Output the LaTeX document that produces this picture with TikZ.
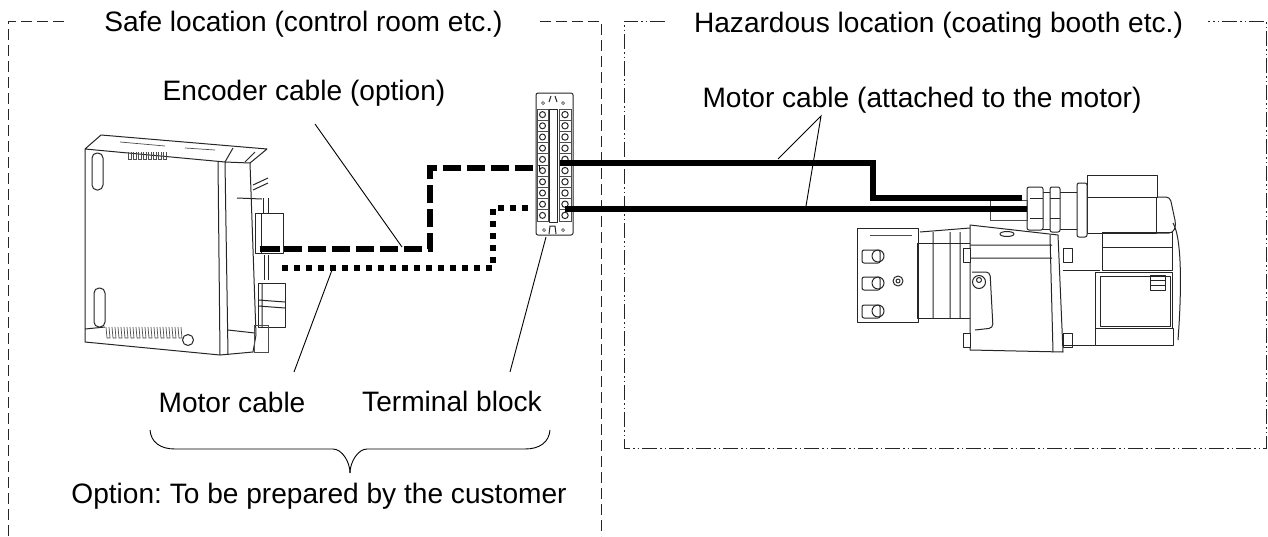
\documentclass[tikz,border=0pt]{standalone}
\usepackage{fontspec}
\setmainfont{Liberation Sans}
\usetikzlibrary{arrows.meta,positioning,calc}

\tikzset{
    label/.style={inner sep=0pt,font=\fontsize{28.1}{32}\selectfont\frenchspacing},
    zone/.style={line width=0.9pt,draw=black!85,dash pattern=on 11pt off 5pt},
    hazzone/.style={line width=0.9pt,draw=black!85,dash pattern=on 15pt off 3pt on 1.5pt off 3pt on 1.5pt off 3pt},
    cable/.style={line width=6pt,line cap=butt,miter limit=10},
    enccable/.style={cable,dash pattern=on 18pt off 6pt},
    motcable/.style={cable,dash pattern=on 6pt off 6pt},
    leader/.style={line width=0.9pt},
    art/.style={line width=1pt,draw=black!85,line join=round},
    artthin/.style={line width=0.7pt,draw=black!70}
}

\begin{document}
\begin{tikzpicture}[x=1pt,y=-1pt]
    \useasboundingbox (0,0) rectangle (1268,536);

    % location frames
    \draw[zone] (64,21) -- (8,21) -- (8,536);
    \draw[zone] (540,21) -- (601,21) -- (601,536);
    \draw[hazzone] (665,21) -- (624,21) -- (624,448) -- (1266,448) -- (1266,21) -- (1208,21);

    % texts
    \node[label] (safe) at (303.5,24.5) {Safe location (control room etc.)};
    \node[label] (haz) at (938.5,25) {Hazardous location (coating booth etc.)};
    \node[label] (enclabel) at (304,93.5) {Encoder cable (option)};
    \node[label] (attlabel) at (922,100) {Motor cable (attached to the motor)};
    \node[label] (motlabel) at (232,402.5) {Motor cable};
    \node[label] (tblabel) at (452,401) {Terminal block};
    \node[label] (optlabel) at (319,496) {Option: To be prepared by the customer};

    % servo drive
    \draw[art,fill=white] (85,149) -- (101,135) -- (267,149) -- (250,163) -- (225,162) -- (85,149) -- (85,342) -- (220,355) -- (253,352) -- (256,335) -- (250,163);
    \draw[art] (218,161) -- (220,355) (225,162) -- (228,355) (228,330) -- (255,333);
    \draw[art] (233,148) -- (225,162) (255,152) -- (245,162) (237,198) -- (262,199);
    \draw[art,rounded corners=5pt] (92,153) rectangle (103,190) (94,288) rectangle (105,327);
    \draw[art] (105,327) -- (85,329);
    \foreach \x in {128,133,...,163} {
        \draw[artthin] (\x,152) -- (\x,159) -- (\x+3,159) -- (\x+3,152);
    }
    \foreach \x in {106,112,...,178} {
        \draw[artthin] (\x,327) -- (\x+1,338) -- (\x+4,338) -- (\x+3,327);
    }
    \draw[artthin] (120,142) -- (165,146) (185,148) -- (215,150);
    \draw[art,fill=white] (188,340) circle (5.5);
    % drive connectors
    \draw[art,fill=white] (255,213) rectangle (283,253);
    \draw[art] (261,213) -- (261,253) (263,198) -- (263,213) (268,198) -- (268,213);
    \draw[art,fill=white] (258,283) rectangle (285,327);
    \draw[art] (262,283) -- (262,327) (258,300) -- (285,302) (258,306) -- (285,308);
    \draw[art] (264,255) -- (264,280) (268,255) -- (268,280);
    \draw[artthin] (254,325) rectangle (268,352);
    \draw[art] (253,185) -- (268,178) (253,190) -- (268,183);

    % terminal block
    \draw[art,fill=white,rounded corners=2pt] (536,93) rectangle (573,235);
    \draw[art,fill=white] (549,109) rectangle (557,222);
    \draw[art] (549,102) -- (551,96) (557,102) -- (555,96) (549,234) -- (550,226) -- (555,226) -- (556,234);
    \draw[artthin] (543,103) circle (1.5) (563,103) circle (1.5) (544,230) circle (1.5) (563,230) circle (1.5);
    \foreach \row in {0,...,9} {
        \draw[artthin] (537,109+11.2*\row) rectangle (548,120.2+11.2*\row);
        \draw[artthin] (559,109+11.2*\row) rectangle (571,120.2+11.2*\row);
        \draw[art] (542.5,114.6+11.2*\row) circle (3);
        \draw[art] (565,114.6+11.2*\row) circle (3.2);
    }

    % motor
    \draw[art,fill=white] (857,228) rectangle (918,322);
    \draw[art] (917,243) rectangle (970,318);
    \draw[art] (933,232) -- (933,318) (950,232) -- (950,318) (960,232) -- (960,318) (920,232) -- (970,228);
    \foreach \y in {250,277,305} {
        \draw[art,rounded corners=2pt] (862,\y) rectangle (880,\y+13);
        \draw[art] (878,\y+6) circle (6);
    }
    \draw[art] (898,281) circle (5) (898,281) circle (2);
    \draw[artthin] (870,235) -- (912,235);
    \draw[art,fill=white] (970,225) -- (1058,235) -- (1063,352) -- (970,350) -- cycle;
    \draw[art] (1050,235) -- (1053,352) (970,245) -- (1052,245) (970,258) -- (1052,258);
    \draw[art,fill=white] (963,248) rectangle (970,262) (963,333) rectangle (970,347) (1063,248) rectangle (1072,262) (1063,333) rectangle (1072,347);
    \draw[art] (1007,234) ellipse (7 and 2.5);
    \draw[art,rounded corners=4pt] (972,272) -- (990,272) -- (993,328) -- (975,330);
    \draw[art,fill=white] (979,282) circle (6.5) (979,280) circle (2.5);
    \draw[art] (1063,270) -- (1100,270) (1063,345) -- (1095,345);
    \draw[art] (1102,232) rectangle (1172,247) (1102,247) rectangle (1172,270);
    \draw[art,fill=white] (1095,272) rectangle (1172,328);
    \draw[art] (1100,276) rectangle (1170,326);
    \draw[art] (1150,275) rectangle (1165,290) (1150,280) -- (1165,280) (1150,285) -- (1165,285);
    \draw[art] (1095,328) rectangle (1173,345);
    \draw[art] (1173,223) .. controls (1183,240) and (1181,300) .. (1178,340);
    \draw[art] (1087,175) -- (1157,175) -- (1157,197) -- (1087,197) -- cycle;
    \draw[art] (1087,197) rectangle (1156,233);
    \draw[art,rounded corners=4pt] (1157,197) -- (1170,197) -- (1176,225) -- (1173,233) -- (1157,233);
    \draw[art] (1043,192) -- (1050,192) (1043,229) -- (1050,229) (1060,192) -- (1077,192) (1060,229) -- (1077,229);
    \draw[art,fill=white,rounded corners=2pt] (1027,187) rectangle (1043,230);
    \draw[art,fill=white,rounded corners=2pt] (1050,187) rectangle (1060,232);
    \draw[art,fill=white,rounded corners=2pt] (1077,183) rectangle (1087,237);
    \draw[art] (1030,198) -- (1043,198) (1030,218) -- (1043,218) (1050,198) -- (1060,198) (1050,218) -- (1060,218);
    \draw[artthin] (990,200) rectangle (1027,220);

    % cable ends
    \coordinate (encdrive) at (260,249);
    \coordinate (enctb) at (540,168);
    \coordinate (motdrive) at (282,268);
    \coordinate (mottb) at (532,208);
    \coordinate (tbtop) at (560,163);
    \coordinate (tbbot) at (565,209);
    \coordinate (mottop) at (1022,198);
    \coordinate (motbot) at (1027,209);

    % cables
    \draw[enccable] (encdrive) -| (430,168) -- (enctb);
    \draw[cable] (encdrive) -- ++(20,0);
    \draw[motcable] (motdrive) -| (493,208) -- (mottb);
    \draw[cable] (tbtop) -| (873,198) -- (mottop);
    \draw[cable] (tbbot) -- (motbot);

    % leader lines
    \coordinate (encfoot) at (402,247);
    \coordinate (encstart) at (315,124);
    \coordinate (motfoot) at (332,270);
    \coordinate (motstart) at (294,372);
    \coordinate (tbfoot) at (546,237);
    \coordinate (tbstart) at (510,372);
    \coordinate (apex) at (821,116);
    \coordinate (attfoota) at (778,159);
    \coordinate (attfootb) at (806,206);
    \draw[leader] (encstart) -- (encfoot);
    \draw[leader] (motstart) -- (motfoot);
    \draw[leader] (tbstart) -- (tbfoot);
    \draw[leader] (attfoota) -- (apex) -- (attfootb);

    % brace
    \draw[leader] (150,430) .. controls (151,442) and (160,449) .. (175,449) -- (333,449) .. controls (342,449) and (350,462) .. (350,473);
    \draw[leader] (550,430) .. controls (549,442) and (540,449) .. (525,449) -- (367,449) .. controls (358,449) and (350,462) .. (350,473);
\end{tikzpicture}
\end{document}
